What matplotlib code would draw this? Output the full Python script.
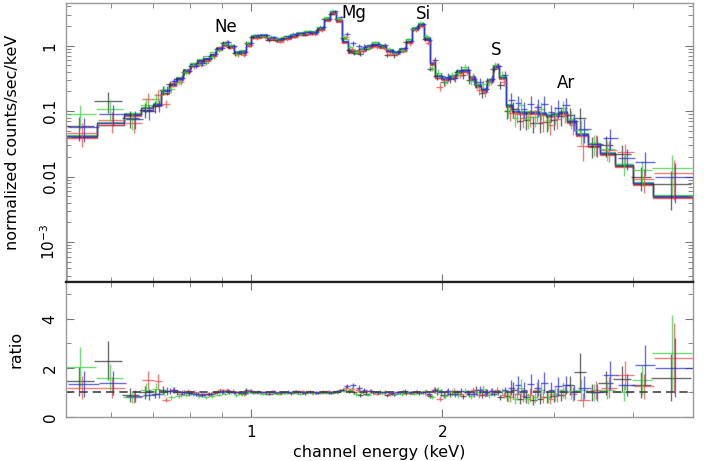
import numpy as np
import matplotlib
matplotlib.use('Agg')
import matplotlib.pyplot as plt
from matplotlib.ticker import FixedLocator, FixedFormatter, NullFormatter, LogLocator

# energy bin edges (keV)
edges = [0.51, 0.57, 0.63, 0.67, 0.70, 0.72, 0.74, 0.76, 0.78, 0.80,
         0.82, 0.84, 0.86, 0.88, 0.90, 0.92, 0.94, 0.96, 0.98, 1.00,
         1.03, 1.06, 1.09, 1.12, 1.15, 1.18, 1.21, 1.24, 1.27, 1.30,
         1.33, 1.36, 1.39, 1.42, 1.45, 1.48, 1.51, 1.55, 1.59, 1.63,
         1.67, 1.71, 1.75, 1.79, 1.83, 1.87, 1.91, 1.95, 2.00, 2.05,
         2.10, 2.15, 2.20, 2.25, 2.30, 2.35, 2.40, 2.46, 2.52, 2.58,
         2.64, 2.70, 2.77, 2.84, 2.91, 2.98, 3.06, 3.15, 3.25, 3.40,
         3.55, 3.75, 4.00, 4.30, 4.97]

# folded model (normalized counts/sec/keV)
model = [0.042, 0.065, 0.09, 0.11, 0.13, 0.20, 0.26, 0.32, 0.42, 0.52,
         0.60, 0.66, 0.76, 0.92, 1.08, 0.98, 0.80, 0.82, 1.05, 1.42,
         1.45, 1.32, 1.28, 1.35, 1.45, 1.55, 1.60, 1.63, 1.85, 2.6,
         3.3, 2.5, 1.2, 0.84, 0.82, 0.88, 0.98, 1.08, 1.0, 0.86,
         0.81, 0.88, 1.2, 1.85, 2.15, 1.3, 0.55, 0.34, 0.32, 0.34,
         0.41, 0.43, 0.33, 0.25, 0.22, 0.30, 0.49, 0.33, 0.125, 0.102,
         0.098, 0.097, 0.097, 0.093, 0.088, 0.090, 0.097, 0.070, 0.045, 0.031,
         0.023, 0.015, 0.008, 0.005]

rel_err = [0.4, 0.35, 0.3, 0.25, 0.2, 0.15, 0.12, 0.1, 0.1, 0.09,
           0.08, 0.08, 0.08, 0.07, 0.07, 0.07, 0.08, 0.08, 0.07, 0.06,
           0.06, 0.06, 0.06, 0.06, 0.06, 0.06, 0.06, 0.06, 0.06, 0.05,
           0.05, 0.05, 0.07, 0.08, 0.08, 0.08, 0.07, 0.07, 0.07, 0.08,
           0.08, 0.08, 0.07, 0.06, 0.06, 0.07, 0.1, 0.13, 0.13, 0.13,
           0.12, 0.12, 0.13, 0.15, 0.15, 0.13, 0.1, 0.13, 0.25, 0.28,
           0.28, 0.3, 0.3, 0.3, 0.3, 0.3, 0.28, 0.3, 0.4, 0.35,
           0.35, 0.35, 0.4, 0.6]

ratio_black = [1.45, 2.3, 0.9, 1.0, 0.95, 1.1, 1.05, 1.0, 1.0, 0.97,
               0.95, 0.92, 0.95, 1.0, 1.05, 1.02, 1.0, 0.98, 1.1, 1.0,
               1.0, 0.95, 0.98, 1.0, 0.97, 1.0, 0.96, 1.0, 0.98, 1.02,
               0.98, 1.05, 1.12, 1.05, 1.0, 0.9, 0.95, 1.0, 1.02, 0.88,
               0.92, 1.0, 0.98, 1.0, 0.97, 1.02, 0.85, 1.05, 0.9, 0.95,
               1.0, 0.85, 0.95, 1.1, 0.9, 1.0, 0.95, 0.8, 0.85, 1.1,
               0.75, 0.8, 0.7, 0.75, 0.8, 0.85, 0.9, 1.3, 1.85, 1.0,
               1.4, 1.55, 1.3, 1.6]
ratio_red = [1.2, 1.2, 0.8, 1.5, 1.45, 0.7, 1.1, 0.95, 1.05, 1.0,
             0.92, 0.95, 0.98, 1.1, 1.12, 1.05, 1.0, 0.95, 1.05, 1.0,
             1.0, 1.05, 0.97, 1.0, 1.02, 1.05, 1.03, 0.98, 1.0, 1.05,
             1.02, 1.08, 1.2, 1.15, 1.1, 1.0, 1.05, 0.95, 1.0, 0.95,
             1.0, 1.03, 0.97, 1.02, 1.0, 0.9, 1.1, 0.75, 1.0, 1.05,
             0.95, 1.0, 1.1, 0.9, 0.95, 1.05, 1.1, 0.9, 0.8, 0.95,
             0.85, 0.9, 1.1, 0.8, 0.75, 0.9, 1.0, 0.95, 0.7, 1.1,
             1.2, 1.7, 1.25, 2.4]
ratio_green = [2.05, 1.6, 0.8, 1.1, 1.15, 1.0, 0.8, 0.85, 0.9, 0.95,
               0.85, 0.8, 0.85, 0.9, 0.95, 1.0, 0.9, 0.95, 1.0, 0.98,
               0.95, 1.0, 0.95, 0.98, 1.0, 0.95, 1.0, 0.97, 1.0, 0.98,
               1.0, 1.0, 1.08, 1.1, 0.95, 1.0, 0.9, 1.0, 0.97, 1.0,
               0.92, 0.95, 1.0, 0.95, 1.0, 1.05, 0.8, 1.1, 0.85, 1.0,
               0.9, 1.05, 0.85, 1.0, 1.15, 0.9, 1.0, 1.05, 0.8, 0.75,
               1.2, 0.75, 0.8, 1.1, 0.8, 0.95, 1.1, 1.05, 1.1, 1.0,
               1.1, 1.0, 1.5, 2.6]
ratio_blue = [1.35, 1.4, 0.85, 0.9, 0.95, 1.05, 1.1, 1.0, 0.97, 0.95,
              0.9, 0.95, 1.0, 1.02, 1.05, 1.0, 1.0, 0.97, 1.05, 1.02,
              1.0, 1.02, 1.0, 1.03, 1.05, 1.0, 1.02, 1.0, 1.03, 1.0,
              1.02, 1.1, 1.25, 1.3, 1.2, 1.1, 1.05, 1.0, 1.02, 0.97,
              1.0, 1.05, 1.0, 1.02, 1.0, 0.95, 1.1, 1.0, 1.05, 0.95,
              1.05, 1.0, 0.95, 1.1, 1.0, 1.05, 1.0, 1.1, 1.2, 1.3,
              1.1, 1.35, 1.2, 1.4, 1.1, 1.25, 1.3, 1.0, 1.2, 1.0,
              1.7, 1.3, 2.1, 2.0]

# per-dataset model normalisation
norms = [0.96, 0.93, 1.04, 1.0]
ratios = [ratio_black, ratio_red, ratio_green, ratio_blue]
colors = ['#303030', '#f04848', '#38d038', '#2c2ce0']
shifts = [0.992, 1.004, 0.997, 1.008]

# line labels: name, energy, height
lines = [('Ne', 0.91, 1.95), ('Mg', 1.45, 3.2), ('Si', 1.865, 3.05), ('S', 2.43, 0.87), ('Ar', 3.13, 0.27)]

edges = np.array(edges)
lo = edges[:-1]
hi = edges[1:]
cen = np.sqrt(lo * hi)
model = np.array(model)
rel_err = np.array(rel_err)

fig = plt.figure(figsize=(7.15, 4.61), dpi=100)
ax1 = fig.add_axes([0.0923, 0.3883, 0.877, 0.6052])
ax2 = fig.add_axes([0.0923, 0.0954, 0.877, 0.2929], sharex=ax1)

for r, c, n, s in zip(ratios, colors, norms, shifts):
    r = np.array(r)
    m = model * n
    x = cen * s
    xerr = [x - lo * s, hi * s - x]
    ax1.errorbar(x, m * r, xerr=xerr, yerr=m * r * rel_err, fmt='none',
                 ecolor=c, elinewidth=1.0, alpha=0.7)
    ax1.stairs(m, edges, color=c, lw=1.0, alpha=0.85)
    ax2.errorbar(x, r, xerr=xerr, yerr=r * rel_err, fmt='none',
                 ecolor=c, elinewidth=1.0, alpha=0.7)

ax2.axhline(1.0, color='#444444', lw=1.2, ls=(0, (5, 3)))

for name, e, v in lines:
    ax1.text(e, v, name, fontsize=12, ha='center', va='center')

ax1.set_xscale('log')
ax1.set_yscale('log')
ax1.set_xlim(0.51, 4.97)
ax1.set_ylim(2.45e-4, 4.5)
ax2.set_ylim(0, 5.5)

ax1.xaxis.set_major_locator(FixedLocator([1, 2]))
ax1.xaxis.set_minor_locator(FixedLocator([0.6, 0.7, 0.8, 0.9, 3, 4]))
ax1.xaxis.set_minor_formatter(NullFormatter())
ax2.xaxis.set_major_formatter(FixedFormatter(['1', '2']))
ax1.tick_params(axis='x', labelbottom=False)

ax1.yaxis.set_major_locator(FixedLocator([1e-3, 1e-2, 1e-1, 1]))
ax1.yaxis.set_major_formatter(FixedFormatter(['$10^{-3}$', '0.01', '0.1', '1']))
ax1.yaxis.set_minor_locator(LogLocator(base=10, subs=np.arange(2, 10)))
ax1.yaxis.set_minor_formatter(NullFormatter())

ax2.yaxis.set_major_locator(FixedLocator([0, 2, 4]))
ax2.yaxis.set_minor_locator(FixedLocator([1, 3, 5]))

for ax in (ax1, ax2):
    ax.tick_params(which='both', direction='in', top=True, right=True,
                   color='#777777', labelsize=11)
    ax.tick_params(which='major', length=6)
    ax.tick_params(which='minor', length=3.5)
    ax.tick_params(axis='y', labelrotation=90, pad=6)
    ax.tick_params(axis='x', pad=6)
    for sp in ax.spines.values():
        sp.set_color('#999999')
        sp.set_linewidth(1.0)
for lab in ax1.get_yticklabels() + ax2.get_yticklabels():
    lab.set_va('center')

ax1.spines['bottom'].set_color('#222222')
ax1.spines['bottom'].set_linewidth(1.6)
ax2.spines['top'].set_color('#222222')
ax2.spines['top'].set_linewidth(1.6)

ax1.set_ylabel('normalized counts/sec/keV', fontsize=11.5)
ax1.yaxis.set_label_coords(-0.074, 0.5)
ax2.set_ylabel('ratio', fontsize=11.5)
ax2.yaxis.set_label_coords(-0.068, 0.5)
ax2.set_xlabel('channel energy (keV)', fontsize=11.5, labelpad=3)

fig.savefig('out.png', dpi=100)
